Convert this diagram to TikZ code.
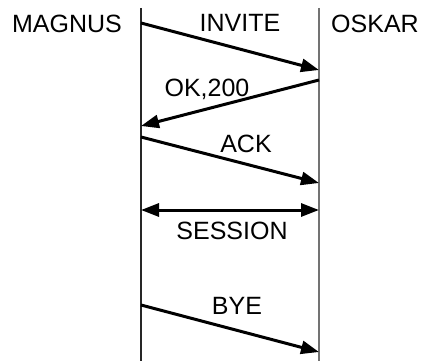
\documentclass[tikz,border=0pt]{standalone}
\usepackage{fontspec}
\setmainfont{Liberation Sans}
\usetikzlibrary{arrows.meta}
\begin{document}
\begin{tikzpicture}[x=1pt,y=-1pt,
  lifeline/.style={line width=1.2pt},
  tip/.tip={Triangle[length=18pt,width=13pt]},
  msg/.style={line width=3pt,-tip},
  lbl/.style={inner sep=0pt,font=\fontsize{25}{29}\selectfont}]
  \useasboundingbox (0,0) rectangle (423,361);
  % lifelines
  \coordinate (mtop) at (141,8);
  \coordinate (mbot) at (141,361);
  \coordinate (otop) at (319,8);
  \coordinate (obot) at (319,361);
  \draw[lifeline,black!85] (mtop) -- (mbot);
  \draw[lifeline,black!55,line width=1.6pt] (otop) -- (obot);
  % participants
  \node[lbl] (magnus) at (67,24) {MAGNUS};
  \node[lbl] (oskar) at (375,24) {OSKAR};
  % message end points on the lifelines
  \coordinate (i1) at (141,23);  \coordinate (i2) at (319,70);
  \coordinate (k1) at (319,80);  \coordinate (k2) at (141,126);
  \coordinate (a1) at (141,137); \coordinate (a2) at (319,183);
  \coordinate (s1) at (141,210); \coordinate (s2) at (319,210);
  \coordinate (b1) at (141,305); \coordinate (b2) at (319,352);
  % messages
  \draw[msg] (i1) -- (i2);
  \draw[msg] (k1) -- (k2);
  \draw[msg] (a1) -- (a2);
  \draw[msg,tip-tip] (s1) -- (s2);
  \draw[msg] (b1) -- (b2);
  % message labels
  \node[lbl] (linvite) at (240,23) {INVITE};
  \node[lbl] (lok) at (207,89) {OK,200};
  \node[lbl] (lack) at (246,144) {ACK};
  \node[lbl] (lsession) at (232,231) {SESSION};
  \node[lbl] (lbye) at (237,306) {BYE};
\end{tikzpicture}
\end{document}
